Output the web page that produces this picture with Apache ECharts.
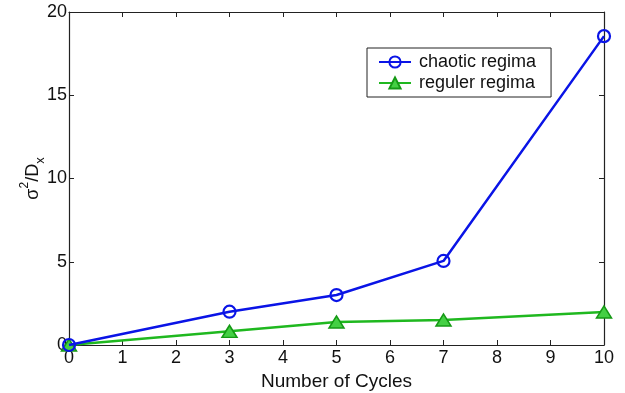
<!DOCTYPE html>
<html>
<head>
<meta charset="utf-8">
<script src="https://cdn.jsdelivr.net/npm/echarts@6/dist/echarts.min.js"></script>
<style>
  html, body { margin: 0; padding: 0; background: #fff; }
  #chart1 { width: 625px; height: 393px; }
</style>
</head>
<body>
<div id="chart1"></div>
<script>
  // cycles on x, sigma^2/Dx on y
  var cycles = [0, 3, 5, 7, 10];
  var chaotic = [0, 2.0, 3.0, 5.05, 18.55];
  var reguler = [0, 0.82, 1.38, 1.5, 1.98];
  var seriesNames = ['chaotic regima', 'reguler regima'];

  var chart1 = echarts.init(document.getElementById('chart1'));
  var font = 'Liberation Sans, Arial, Helvetica, sans-serif';

  function pairs(ys) {
    return cycles.map(function (c, i) { return [c, ys[i]]; });
  }

  var boxAxis = {
    axisLine: { show: true, onZero: false, lineStyle: { color: '#222', width: 1.2 } },
    axisTick: { show: true, inside: true, length: 5, lineStyle: { color: '#222' } },
    splitLine: { show: false }
  };

  var option = {
    animation: false,
    backgroundColor: '#fff',
    grid: { left: 69, right: 21, top: 12, bottom: 48, outerBoundsMode: 'none', containLabel: false },
    legend: {
      left: 367, top: 48,
      orient: 'vertical',
      itemGap: 3,
      itemWidth: 32, itemHeight: 14,
      padding: [5, 15, 5, 11],
      borderColor: '#222', borderWidth: 1,
      backgroundColor: '#fff',
      textStyle: { fontFamily: font, fontSize: 18, color: '#111', padding: [0, 0, 0, 3] },
      data: seriesNames
    },
    xAxis: [
      Object.assign({
        type: 'value', min: 0, max: 10, interval: 1,
        name: 'Number of Cycles', nameLocation: 'middle', nameGap: 27, nameMoveOverlap: false,
        nameTextStyle: { fontFamily: font, fontSize: 19, color: '#111' },
        axisLabel: { fontFamily: font, fontSize: 18, color: '#111', margin: 4 }
      }, boxAxis),
      Object.assign({
        type: 'value', min: 0, max: 10, interval: 1, position: 'top',
        axisLabel: { show: false }
      }, boxAxis)
    ],
    yAxis: [
      Object.assign({
        type: 'value', min: 0, max: 20, interval: 5,
        name: '{n|σ}{sup|2}{n|/D}{sub|x}',
        nameLocation: 'middle', nameGap: 22, nameRotate: 90, nameMoveOverlap: false,
        nameTextStyle: {
          fontFamily: font, fontSize: 18, color: '#111',
          rich: {
            n: { fontFamily: font, fontSize: 18, color: '#111', lineHeight: 28, verticalAlign: 'middle' },
            sup: { fontFamily: font, fontSize: 12, color: '#111', lineHeight: 28, verticalAlign: 'top' },
            sub: { fontFamily: font, fontSize: 13, color: '#111', lineHeight: 28, verticalAlign: 'bottom' }
          }
        },
        axisLabel: { fontFamily: font, fontSize: 18, color: '#111', margin: 2 }
      }, boxAxis),
      Object.assign({
        type: 'value', min: 0, max: 20, interval: 5, position: 'right',
        axisLabel: { show: false }
      }, boxAxis)
    ],
    series: [
      {
        name: seriesNames[1],
        type: 'line',
        data: pairs(reguler),
        symbol: 'triangle',
        symbolSize: [15, 12],
        lineStyle: { color: '#1fb81f', width: 2.5 },
        itemStyle: { color: '#44d044', borderColor: '#159915', borderWidth: 1.5 },
        z: 2
      },
      {
        name: seriesNames[0],
        type: 'line',
        data: pairs(chaotic),
        symbol: 'circle',
        symbolSize: 12,
        showAllSymbol: true,
        lineStyle: { color: '#0a14e6', width: 2.5 },
        itemStyle: { color: 'rgba(255,255,255,0)', borderColor: '#0a14e6', borderWidth: 2.2 },
        z: 3
      }
    ]
  };

  chart1.setOption(option);
  window.addEventListener('resize', function () {
    chart1.resize();
  });
</script>
</body>
</html>
